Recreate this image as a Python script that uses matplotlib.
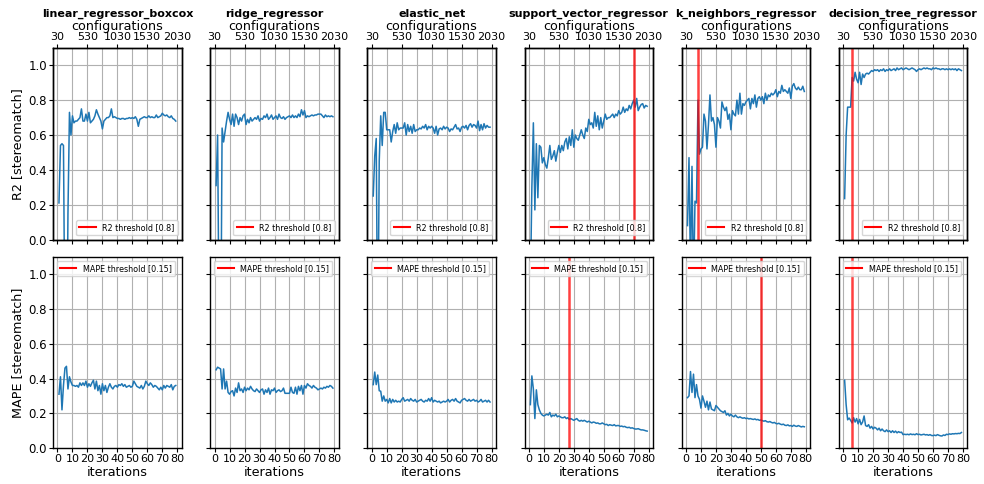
import matplotlib
matplotlib.use('Agg')
import matplotlib.pyplot as plt
from matplotlib.lines import Line2D
import numpy as np

models = ['linear_regressor_boxcox', 'ridge_regressor', 'elastic_net',
          'support_vector_regressor', 'k_neighbors_regressor', 'decision_tree_regressor']
iterations = np.arange(1, 80)
config_ticks = [30, 530, 1030, 1530, 2030]

r2_lin = [0.21, 0.54, 0.55, 0.54, -0.6, -0.9, 0.15, 0.73, 0.60, 0.71, 0.67, 0.68, 0.68, 0.69, 0.70, 0.75,
          0.68, 0.68, 0.72, 0.68, 0.73, 0.67, 0.68, 0.69, 0.71, 0.745, 0.72, 0.70, 0.68, 0.635, 0.68, 0.69,
          0.70, 0.70, 0.71, 0.75, 0.70, 0.705, 0.70, 0.695, 0.695, 0.69, 0.695, 0.695, 0.69, 0.695, 0.695,
          0.70, 0.695, 0.70, 0.695, 0.705, 0.69, 0.65, 0.69, 0.695, 0.70, 0.705, 0.70, 0.70, 0.71, 0.70,
          0.705, 0.70, 0.70, 0.715, 0.70, 0.705, 0.71, 0.725, 0.715, 0.71, 0.715, 0.705, 0.70, 0.71, 0.695,
          0.69, 0.68]
r2_ridge = [0.31, 0.60, -0.5, -0.8, 0.64, 0.56, 0.62, 0.68, 0.73, 0.69, 0.66, 0.72, 0.65, 0.72, 0.70, 0.66,
            0.70, 0.68, 0.71, 0.72, 0.66, 0.69, 0.67, 0.70, 0.68, 0.69, 0.70, 0.69, 0.71, 0.68, 0.695, 0.69,
            0.71, 0.70, 0.72, 0.69, 0.70, 0.715, 0.69, 0.70, 0.71, 0.69, 0.72, 0.70, 0.695, 0.705, 0.69,
            0.70, 0.705, 0.71, 0.70, 0.715, 0.70, 0.71, 0.70, 0.72, 0.705, 0.745, 0.715, 0.74, 0.70, 0.71,
            0.705, 0.71, 0.715, 0.71, 0.715, 0.715, 0.72, 0.72, 0.72, 0.71, 0.70, 0.715, 0.705, 0.71, 0.705,
            0.71, 0.705]
r2_enet = [0.25, 0.48, 0.58, -0.7, 0.45, 0.71, 0.54, 0.73, 0.73, 0.63, 0.63, 0.63, 0.56, 0.62, 0.66, 0.61,
           0.67, 0.63, 0.64, 0.64, 0.64, 0.67, 0.60, 0.66, 0.62, 0.65, 0.61, 0.66, 0.62, 0.63, 0.63, 0.64,
           0.635, 0.65, 0.64, 0.66, 0.63, 0.65, 0.64, 0.65, 0.64, 0.61, 0.65, 0.60, 0.635, 0.64, 0.63, 0.65,
           0.635, 0.645, 0.64, 0.62, 0.635, 0.63, 0.645, 0.66, 0.635, 0.64, 0.62, 0.645, 0.65, 0.64, 0.655,
           0.63, 0.655, 0.665, 0.645, 0.66, 0.655, 0.64, 0.68, 0.625, 0.66, 0.63, 0.665, 0.64, 0.655, 0.645,
           0.645]
r2_svr = [-0.3, 0.30, 0.67, 0.17, 0.55, 0.24, 0.54, 0.53, 0.44, 0.47, 0.43, 0.41, 0.47, 0.54, 0.46, 0.48,
          0.51, 0.45, 0.50, 0.54, 0.50, 0.54, 0.51, 0.56, 0.58, 0.52, 0.59, 0.54, 0.63, 0.53, 0.60, 0.58,
          0.57, 0.60, 0.63, 0.60, 0.58, 0.64, 0.62, 0.69, 0.66, 0.67, 0.64, 0.73, 0.65, 0.71, 0.63, 0.70,
          0.64, 0.68, 0.72, 0.69, 0.70, 0.70, 0.71, 0.72, 0.70, 0.72, 0.71, 0.74, 0.72, 0.73, 0.76, 0.73,
          0.75, 0.74, 0.77, 0.75, 0.78, 0.80, 0.76, 0.81, 0.74, 0.76, 0.775, 0.78, 0.755, 0.77, 0.765]
r2_knn = [0.08, 0.47, -0.2, 0.42, -0.3, 0.22, 0.21, 0.80, 0.49, 0.52, 0.53, 0.72, 0.68, 0.52, 0.66, 0.83,
          0.68, 0.70, 0.66, 0.53, 0.70, 0.68, 0.64, 0.79, 0.76, 0.74, 0.76, 0.69, 0.72, 0.63, 0.74, 0.72,
          0.71, 0.80, 0.72, 0.84, 0.72, 0.78, 0.77, 0.79, 0.80, 0.81, 0.75, 0.81, 0.78, 0.83, 0.76, 0.81,
          0.82, 0.80, 0.82, 0.78, 0.84, 0.80, 0.83, 0.82, 0.84, 0.83, 0.84, 0.86, 0.82, 0.85, 0.84, 0.885,
          0.85, 0.86, 0.85, 0.84, 0.87, 0.81, 0.88, 0.895, 0.87, 0.86, 0.875, 0.86, 0.86, 0.88, 0.85]
r2_tree = [0.235, 0.60, 0.76, 0.76, 0.76, 0.93, 0.91, 0.96, 0.92, 0.90, 0.96, 0.89, 0.95, 0.93, 0.95, 0.955,
           0.95, 0.96, 0.97, 0.965, 0.975, 0.97, 0.975, 0.965, 0.975, 0.97, 0.98, 0.965, 0.975, 0.97, 0.98,
           0.97, 0.975, 0.98, 0.97, 0.985, 0.975, 0.98, 0.985, 0.975, 0.98, 0.985, 0.98, 0.975, 0.98, 0.985,
           0.98, 0.975, 0.965, 0.975, 0.98, 0.975, 0.98, 0.985, 0.98, 0.985, 0.98, 0.98, 0.975, 0.985, 0.98,
           0.985, 0.98, 0.98, 0.975, 0.98, 0.98, 0.975, 0.98, 0.975, 0.98, 0.975, 0.98, 0.975, 0.98, 0.97,
           0.98, 0.975, 0.97]

mape_lin = [0.31, 0.41, 0.22, 0.36, 0.46, 0.47, 0.34, 0.41, 0.38, 0.36, 0.36, 0.355, 0.36, 0.35, 0.375, 0.36,
            0.375, 0.36, 0.385, 0.35, 0.37, 0.355, 0.375, 0.39, 0.34, 0.385, 0.33, 0.36, 0.31, 0.37, 0.33,
            0.36, 0.32, 0.35, 0.37, 0.35, 0.34, 0.355, 0.36, 0.35, 0.365, 0.36, 0.37, 0.355, 0.365, 0.35,
            0.355, 0.36, 0.35, 0.355, 0.385, 0.37, 0.355, 0.35, 0.345, 0.36, 0.34, 0.355, 0.385, 0.37, 0.36,
            0.375, 0.365, 0.35, 0.36, 0.355, 0.345, 0.335, 0.35, 0.335, 0.36, 0.345, 0.36, 0.355, 0.35,
            0.365, 0.335, 0.355, 0.36]
mape_ridge = [0.45, 0.465, 0.46, 0.455, 0.34, 0.455, 0.34, 0.385, 0.32, 0.31, 0.325, 0.33, 0.30, 0.345, 0.32,
              0.375, 0.33, 0.34, 0.32, 0.35, 0.33, 0.345, 0.335, 0.355, 0.34, 0.33, 0.325, 0.34, 0.33, 0.32,
              0.335, 0.34, 0.31, 0.335, 0.32, 0.345, 0.31, 0.335, 0.33, 0.345, 0.32, 0.33, 0.335, 0.325,
              0.33, 0.345, 0.315, 0.315, 0.315, 0.315, 0.35, 0.32, 0.315, 0.35, 0.31, 0.355, 0.33, 0.36,
              0.31, 0.36, 0.345, 0.37, 0.36, 0.355, 0.345, 0.36, 0.35, 0.345, 0.335, 0.34, 0.345, 0.34, 0.35,
              0.345, 0.355, 0.35, 0.36, 0.355, 0.345]
mape_enet = [0.365, 0.437, 0.365, 0.42, 0.33, 0.327, 0.27, 0.30, 0.27, 0.28, 0.26, 0.285, 0.26, 0.28, 0.265,
             0.275, 0.265, 0.27, 0.265, 0.28, 0.29, 0.27, 0.275, 0.28, 0.27, 0.285, 0.275, 0.27, 0.28, 0.265,
             0.27, 0.275, 0.28, 0.27, 0.265, 0.275, 0.27, 0.285, 0.27, 0.29, 0.265, 0.275, 0.27, 0.265, 0.27,
             0.26, 0.265, 0.27, 0.265, 0.27, 0.28, 0.265, 0.275, 0.28, 0.27, 0.285, 0.27, 0.265, 0.26, 0.275,
             0.28, 0.285, 0.275, 0.27, 0.28, 0.27, 0.275, 0.28, 0.27, 0.275, 0.265, 0.27, 0.28, 0.265, 0.27,
             0.275, 0.265, 0.275, 0.265]
mape_svr = [0.25, 0.415, 0.34, 0.17, 0.335, 0.25, 0.22, 0.20, 0.19, 0.185, 0.19, 0.195, 0.19, 0.205, 0.18,
            0.19, 0.185, 0.195, 0.18, 0.185, 0.18, 0.175, 0.175, 0.18, 0.17, 0.175, 0.165, 0.17, 0.165, 0.16,
            0.165, 0.17, 0.16, 0.155, 0.16, 0.155, 0.16, 0.155, 0.15, 0.155, 0.15, 0.145, 0.15, 0.148, 0.143,
            0.145, 0.14, 0.14, 0.145, 0.14, 0.135, 0.137, 0.13, 0.135, 0.132, 0.13, 0.135, 0.128, 0.13, 0.13,
            0.125, 0.127, 0.123, 0.125, 0.12, 0.118, 0.12, 0.115, 0.117, 0.113, 0.11, 0.11, 0.112, 0.108,
            0.105, 0.105, 0.103, 0.10, 0.098]
mape_knn = [0.29, 0.30, 0.44, 0.32, 0.425, 0.29, 0.365, 0.30, 0.28, 0.23, 0.30, 0.27, 0.235, 0.27, 0.22,
            0.265, 0.225, 0.22, 0.215, 0.245, 0.235, 0.225, 0.215, 0.21, 0.205, 0.215, 0.19, 0.20, 0.185,
            0.195, 0.185, 0.18, 0.19, 0.18, 0.175, 0.18, 0.175, 0.172, 0.175, 0.17, 0.172, 0.168, 0.17,
            0.167, 0.165, 0.168, 0.163, 0.165, 0.16, 0.162, 0.158, 0.155, 0.158, 0.152, 0.15, 0.153, 0.148,
            0.145, 0.148, 0.142, 0.14, 0.143, 0.138, 0.135, 0.138, 0.132, 0.13, 0.134, 0.128, 0.13, 0.125,
            0.132, 0.127, 0.125, 0.13, 0.126, 0.122, 0.125, 0.123]
mape_tree = [0.39, 0.25, 0.163, 0.173, 0.16, 0.145, 0.175, 0.15, 0.17, 0.14, 0.165, 0.135, 0.15, 0.185, 0.13,
             0.125, 0.135, 0.115, 0.125, 0.11, 0.12, 0.115, 0.105, 0.115, 0.10, 0.11, 0.10, 0.095, 0.105,
             0.095, 0.10, 0.09, 0.10, 0.09, 0.098, 0.088, 0.095, 0.09, 0.092, 0.078, 0.08, 0.078, 0.08, 0.077,
             0.082, 0.078, 0.08, 0.077, 0.083, 0.078, 0.08, 0.076, 0.078, 0.08, 0.076, 0.078, 0.074, 0.078,
             0.073, 0.072, 0.075, 0.072, 0.078, 0.074, 0.071, 0.07, 0.076, 0.073, 0.08, 0.078, 0.082, 0.08,
             0.083, 0.082, 0.084, 0.083, 0.085, 0.084, 0.09]

r2_all = [r2_lin, r2_ridge, r2_enet, r2_svr, r2_knn, r2_tree]
mape_all = [mape_lin, mape_ridge, mape_enet, mape_svr, mape_knn, mape_tree]
# iteration where the threshold was first reached (None = never)
r2_hit = [None, None, None, 70, 8, 6]
mape_hit = [None, None, None, 27, 50, 6]

plt.rcParams['xtick.labelsize'] = 8
plt.rcParams['ytick.labelsize'] = 8.5
plt.rcParams['axes.labelsize'] = 9.2
plt.rcParams['axes.linewidth'] = 1.0
plt.rcParams['xtick.major.size'] = 3
plt.rcParams['ytick.major.size'] = 3
plt.rcParams['xtick.major.pad'] = 1.5
plt.rcParams['ytick.major.pad'] = 1.5

fig, axes = plt.subplots(2, 6, figsize=(9.84, 4.84), dpi=100, sharex=True, sharey=True)
fig.subplots_adjust(left=0.054, right=0.983, top=0.901, bottom=0.074, wspace=0.223, hspace=0.089)

for c in range(6):
    ax = axes[0, c]
    ax.plot(iterations, r2_all[c], color='#1f77b4', lw=1.1)
    if r2_hit[c] is not None:
        ax.axvline(r2_hit[c], color='red', alpha=0.75, lw=1.8)
    ax.legend(handles=[Line2D([], [], color='red', lw=1.5, label='R2 threshold [0.8]')],
              loc='lower right', fontsize=5.8)
    ax.grid(True)

    ax = axes[1, c]
    ax.plot(iterations, mape_all[c], color='#1f77b4', lw=1.1)
    if mape_hit[c] is not None:
        ax.axvline(mape_hit[c], color='red', alpha=0.75, lw=1.8)
    ax.legend(handles=[Line2D([], [], color='red', lw=1.5, label='MAPE threshold [0.15]')],
              loc='upper left', fontsize=5.8)
    ax.grid(True)
    ax.set_xlabel('iterations', labelpad=1)
    ax.set_xticks(range(0, 81, 10))

axes[0, 0].set_ylim(0, 1.1)
axes[0, 0].set_yticks(np.arange(0, 1.01, 0.2))
axes[0, 0].set_ylabel('R2 [stereomatch]', labelpad=3)
axes[1, 0].set_ylabel('MAPE [stereomatch]', labelpad=3)

lo, hi = axes[0, 0].get_xlim()
for c in range(6):
    top = axes[0, c].twiny()
    top.set_xlim(30 + 25 * lo, 30 + 25 * hi)
    top.set_xticks(config_ticks)
    top.set_xlabel('configurations', labelpad=1.5)
    top.set_title(models[c], fontweight='bold', fontsize=8, pad=2)

fig.savefig('out.png', dpi=100)
